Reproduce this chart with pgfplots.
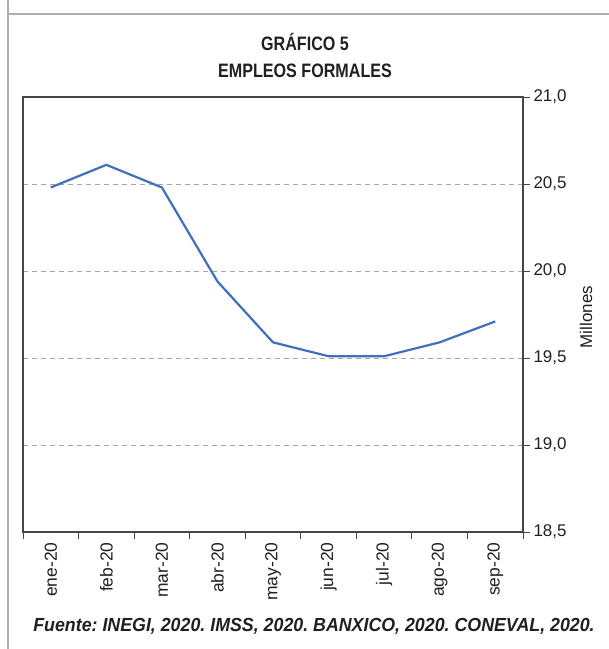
\documentclass[border=0pt]{standalone}
\usepackage{pgfplots}
\pgfplotsset{compat=1.18}
\usepackage{fontspec}
\setmainfont{Liberation Sans}
\newfontfamily\cond[FakeStretch=0.83]{Liberation Sans}
\newfontfamily\condf[FakeStretch=0.94]{Liberation Sans}
\definecolor{lineblue}{RGB}{62,112,190}
\definecolor{gridgray}{RGB}{165,165,165}
\definecolor{axgray}{RGB}{70,70,70}
\definecolor{framegray}{RGB}{175,175,175}
\definecolor{txt}{RGB}{35,31,32}
\frenchspacing
\begin{document}
\begin{tikzpicture}[x=1bp,y=1bp]
\useasboundingbox (0,0) rectangle (609,649);
\draw[framegray,line width=1.6bp] (8,649) -- (8,0);
\draw[framegray,line width=1.6bp] (8,635) -- (609,635);
\begin{axis}[
  at={(23bp,117bp)}, anchor=south west,
  scale only axis, width=500bp, height=435bp,
  xmin=-0.5, xmax=8.5, ymin=18.5, ymax=21,
  xtick={0,...,8},
  xticklabels={ene-20,feb-20,mar-20,abr-20,may-20,jun-20,jul-20,ago-20,sep-20},
  major x tick style={draw=none},
  minor xtick={-0.5,0.5,...,8.5},
  minor tick length=7bp,
  xtick pos=bottom,
  x tick label style={rotate=90, anchor=east, font=\fontsize{17.5}{20}\selectfont, text=txt},
  ytick={18.5,19,...,21},
  ytick pos=right, yticklabel pos=right,
  major tick length=7bp,
  tick align=outside,
  y tick label style={font=\fontsize{17}{20}\selectfont, text=txt, /pgf/number format/.cd, use comma, fixed, fixed zerofill, precision=1},
  /pgf/number format/assume math mode=true,
  ylabel={Millones},
  ylabel style={at={(axis description cs:1.126,0.494)}, anchor=center, font=\fontsize{17}{20}\selectfont, text=txt},
  ymajorgrids, grid style={gridgray, dashed, dash pattern=on 5bp off 4bp, line width=0.8bp},
  axis line style={axgray, line width=1.1bp},
  tick style={axgray, line width=0.9bp},
  every minor tick/.style={axgray, line width=0.9bp},
  clip=false,
]
\addplot[lineblue, line width=2.2bp, mark=none] coordinates {
(0,20.48) (1,20.61) (2,20.48) (3,19.94) (4,19.59) (5,19.51) (6,19.51) (7,19.59) (8,19.71)
};
\end{axis}
\node[font=\cond\bfseries\fontsize{19.5}{22}\selectfont, text=txt] at (305,607) {GRÁFICO 5};
\node[font=\cond\bfseries\fontsize{19.5}{22}\selectfont, text=txt] at (305,578) {EMPLEOS FORMALES};
\node[font=\condf\bfseries\itshape\fontsize{19}{22}\selectfont, text=txt] at (314,23) {Fuente: INEGI, 2020. IMSS, 2020. BANXICO, 2020. CONEVAL, 2020.};
\end{tikzpicture}
\end{document}
